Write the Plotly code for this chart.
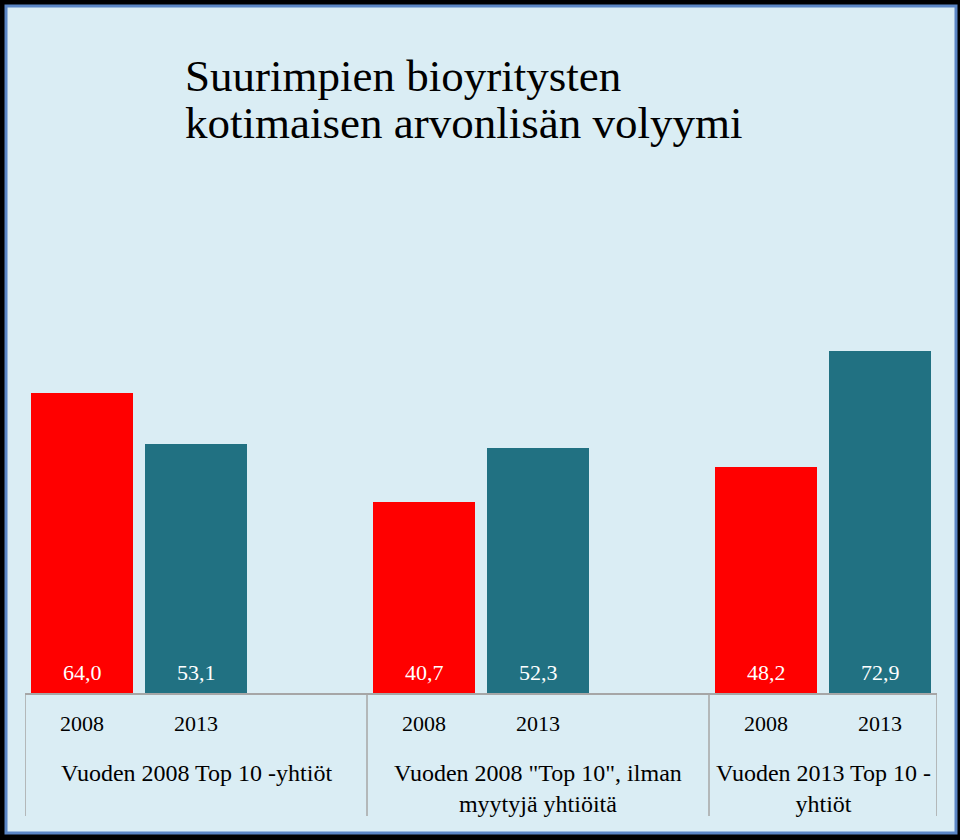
import plotly.graph_objects as go

# ---- data ----
groups = ["Vuoden 2008 Top 10 -yhtiöt",
          "Vuoden 2008 \"Top 10\", ilman<br>myytyjä yhtiöitä",
          "Vuoden 2013 Top 10 -<br>yhtiöt"]
years = ["2008", "2013"]
values_2008 = [64.0, 40.7, 48.2]
values_2013 = [53.1, 52.3, 72.9]
title_lines = ["Suurimpien bioyritysten", "kotimaisen arvonlisän volyymi"]

# ---- layout geometry (pixels) ----
W, H = 960, 840
L, R, T, B = 25, 937, 200, 693
PW, PH = R - L, B - T
YMAX = 105.1

def px(xp):
    return (xp - L) / PW

def py(yp):
    return (B - yp) / PH

FONT = "Liberation Serif"
RED = "#ff0000"
TEAL = "#217182"
GRAY = "#a6a6a6"

x2008 = [3 * g for g in range(len(groups))]
x2013 = [3 * g + 1 for g in range(len(groups))]

fig = go.Figure()
fig.add_bar(x=x2008, y=values_2008, marker=dict(color=RED, line=dict(width=0)),
            width=0.895, name=years[0], hoverinfo="y")
fig.add_bar(x=x2013, y=values_2013, marker=dict(color=TEAL, line=dict(width=0)),
            width=0.895, name=years[1], hoverinfo="y")

ann = []
shapes = []

# value labels inside bars (bottom)
for xs, vs in ((x2008, values_2008), (x2013, values_2013)):
    for x, v in zip(xs, vs):
        ann.append(dict(x=x, y=0, xref="x", yref="y", yanchor="bottom", yshift=6,
                        text=f"{v:.1f}".replace(".", ","), showarrow=False,
                        font=dict(family=FONT, size=22, color="white")))
# year labels
for xs, yr in ((x2008, years[0]), (x2013, years[1])):
    for x in xs:
        ann.append(dict(x=x, y=py(723), xref="x", yref="paper", yanchor="middle",
                        text=yr, showarrow=False,
                        font=dict(family=FONT, size=22, color="black")))
# group labels
for g, name in enumerate(groups):
    left = 3 * g - 0.5
    right = min(3 * g + 2.5, 7.5)
    ann.append(dict(x=(left + right) / 2, y=py(758), xref="x", yref="paper",
                    yanchor="top", text=name, showarrow=False,
                    font=dict(family=FONT, size=24, color="black")))
# separators
for xs in (-0.5, 2.5, 5.5, 7.5):
    shapes.append(dict(type="line", xref="x", yref="paper", x0=xs, x1=xs,
                       y0=0, y1=py(816), line=dict(color=GRAY, width=1.5)))

# title
ann.append(dict(x=px(183), y=py(76), xref="paper", yref="paper", xanchor="left",
                yanchor="middle", text=title_lines[0], showarrow=False,
                font=dict(family=FONT, size=45, color="black")))
ann.append(dict(x=px(183), y=py(123), xref="paper", yref="paper", xanchor="left",
                yanchor="middle", text=title_lines[1], showarrow=False,
                font=dict(family=FONT, size=45, color="black")))

# frame
shapes.insert(0, dict(type="rect", xref="paper", yref="paper", layer="below",
                      x0=px(6), x1=px(956), y0=py(833), y1=py(6),
                      fillcolor="#daedf4", line=dict(color="#5b86c5", width=3)))

fig.update_layout(
    width=W, height=H,
    margin=dict(l=L, r=W - R, t=T, b=H - B, pad=0),
    paper_bgcolor="#000000",
    plot_bgcolor="rgba(0,0,0,0)",
    showlegend=False,
    bargap=0,
    xaxis=dict(range=[-0.5, 7.5], showticklabels=False, ticks="", showgrid=False,
               zeroline=False, showline=True, linecolor=GRAY, linewidth=1.5),
    yaxis=dict(range=[0, YMAX], visible=False, showgrid=False, zeroline=False),
    annotations=ann,
    shapes=shapes,
)

fig.write_html("out.html", config={"displayModeBar": False},
               post_script="document.body.style.margin='0';document.body.style.overflow='hidden';")
